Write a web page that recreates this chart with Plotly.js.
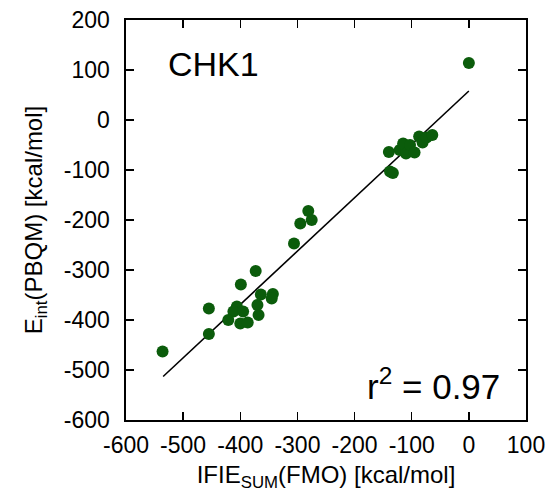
<!DOCTYPE html>
<html>
<head>
<meta charset="utf-8">
<script src="https://cdn.plot.ly/plotly-3.0.1.min.js"></script>
<style>html,body{margin:0;padding:0;background:#fff;}#chart{width:552px;height:495px;}</style>
</head>
<body>
<div id="chart"></div>
<script>
// IFIE_SUM(FMO) values [kcal/mol]
const ifieSum = [
  0,
  -140, -138, -133, -121, -115, -110, -103, -95, -87, -81, -74, -64,
  -281, -295, -275, -306,
  -373, -399, -364, -343, -345, -370, -368,
  -455, -406, -412, -395, -421, -400, -387, -455, -536
];
// E_int(PBQM) values [kcal/mol]
const eIntPBQM = [
  114,
  -64, -103, -106, -60, -47, -67, -50, -65, -33, -45, -35, -30,
  -182, -207, -200, -247,
  -302, -329, -349, -348, -357, -370, -390,
  -377, -373, -383, -383, -400, -407, -405, -428, -463
];
// regression line end points
const fitX = [-535, 0];
const fitY = [-513, 58];
const xTicks = [-600, -500, -400, -300, -200, -100, 0, 100];
const yTicks = [-600, -500, -400, -300, -200, -100, 0, 100, 200];
const panelLabel = "CHK1";
const r2Label = "r<sup>2</sup> = 0.97";

const font = "Liberation Sans, Arial, Helvetica, sans-serif";

const traces = [
  {
    x: fitX, y: fitY, mode: "lines", type: "scatter",
    line: {color: "#000", width: 1.6}, hoverinfo: "skip", showlegend: false
  },
  {
    x: ifieSum, y: eIntPBQM, mode: "markers", type: "scatter",
    marker: {color: "#0b5c0b", size: 12}, showlegend: false
  }
];

const axisCommon = {
  showgrid: false, zeroline: false, showline: true, mirror: "ticks",
  linecolor: "#000", linewidth: 1.6, ticks: "inside", ticklen: 8,
  tickwidth: 1.3, tickcolor: "#000",
  tickfont: {family: font, size: 23, color: "#000"}
};

const layout = {
  width: 552, height: 495,
  margin: {l: 126, r: 26, t: 20, b: 75},
  paper_bgcolor: "#fff", plot_bgcolor: "#fff",
  xaxis: Object.assign({}, axisCommon, {
    range: [-600, 100], tickvals: xTicks, ticktext: xTicks.map(String),
    ticklabelstandoff: 4,
    title: {text: "IFIE<sub>SUM</sub>(FMO) [kcal/mol]", font: {family: font, size: 24, color: "#000"}, standoff: 9}
  }),
  yaxis: Object.assign({}, axisCommon, {
    range: [-600, 200], tickvals: yTicks, ticktext: yTicks.map(String),
    ticklabelstandoff: 10,
    title: {text: "E<sub>int</sub>(PBQM) [kcal/mol]", font: {family: font, size: 24, color: "#000"}, standoff: 14}
  }),
  annotations: [
    {text: panelLabel, xref: "paper", yref: "paper", x: 0.1, y: 0.89,
     xanchor: "left", yanchor: "middle", showarrow: false,
     font: {family: font, size: 34, color: "#000"}},
    {text: r2Label, xref: "paper", yref: "paper", x: 0.94, y: 0.09,
     xanchor: "right", yanchor: "middle", showarrow: false,
     font: {family: font, size: 35, color: "#000"}}
  ]
};

Plotly.newPlot("chart", traces, layout, {displayModeBar: false, staticPlot: true});
</script>
</body>
</html>
